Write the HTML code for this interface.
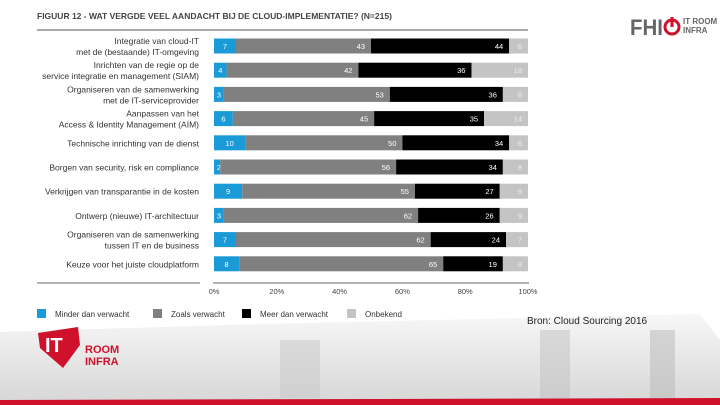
<!DOCTYPE html>
<html><head><meta charset="utf-8">
<style>
body{margin:0;width:720px;height:405px;overflow:hidden;background:#fff;font-family:"Liberation Sans",sans-serif;position:relative}
svg{position:absolute;left:0;top:0}
</style></head>
<body>
<svg width="720" height="405">
<defs><linearGradient id="city" x1="0" y1="0" x2="0" y2="1"><stop offset="0" stop-color="#f7f7f7"/><stop offset="1" stop-color="#d8d8d8"/></linearGradient></defs>
<polygon points="0,332 260,324 700,314 720,340 720,400 0,400" fill="url(#city)"/>
<rect x="280" y="340" width="40" height="58" fill="#c8c8c8" opacity="0.5"/>
<rect x="540" y="330" width="30" height="68" fill="#c0c0c0" opacity="0.5"/>
<rect x="650" y="330" width="25" height="68" fill="#b8b8b8" opacity="0.5"/>
<polygon points="0,400 720,398 720,405 0,405" fill="#d0112b"/>
<text x="37" y="19" font-size="8.5" font-weight="bold" fill="#444">FIGUUR 12 - WAT VERGDE VEEL AANDACHT BIJ DE CLOUD-IMPLEMENTATIE? (N=215)</text>
<line x1="37" y1="30" x2="528" y2="30" stroke="#555" stroke-width="1"/>
<text x="630" y="35" font-size="22" font-weight="bold" fill="#666" textLength="33" lengthAdjust="spacingAndGlyphs">FHI</text>
<circle cx="672" cy="27" r="7" fill="none" stroke="#d0112b" stroke-width="3"/>
<line x1="672" y1="17" x2="672" y2="27" stroke="#d0112b" stroke-width="3"/>
<text x="683" y="24" font-size="8" font-weight="bold" fill="#666">IT ROOM</text>
<text x="683" y="33" font-size="8" font-weight="bold" fill="#666">INFRA</text>
<g id="labels"></g>
<g id="bars"></g>
<line x1="37" y1="283" x2="200" y2="283" stroke="#999" stroke-width="1.5"/>
<line x1="213" y1="283" x2="529" y2="283" stroke="#999" stroke-width="1.5"/>
<g id="ticks"></g>
<g id="legend"></g>
<text x="527" y="324" font-size="10" fill="#222">Bron: Cloud Sourcing 2016</text>
<polygon points="38,333 78,327 80,345 63,368 40,348" fill="#d0112b"/>
<text x="45" y="352" font-size="20" font-weight="bold" fill="#fff">IT</text>
<text x="85" y="353" font-size="11" font-weight="bold" fill="#d0112b">ROOM</text>
<text x="85" y="365" font-size="11" font-weight="bold" fill="#d0112b">INFRA</text>
</svg>
<script>
const categories=[["Integratie van cloud-IT","met de (bestaande) IT-omgeving"],["Inrichten van de regie op de","service integratie en management (SIAM)"],["Organiseren van de samenwerking","met de IT-serviceprovider"],["Aanpassen van het","Access & Identity Management (AIM)"],["Technische inrichting van de dienst"],["Borgen van security, risk en compliance"],["Verkrijgen van transparantie in de kosten"],["Ontwerp (nieuwe) IT-architectuur"],["Organiseren van de samenwerking","tussen IT en de business"],["Keuze voor het juiste cloudplatform"]];
const minder=[7,4,3,6,10,2,9,3,7,8];
const zoals=[43,42,53,45,50,56,55,62,62,65];
const meer=[44,36,36,35,34,34,27,26,24,19];
const onbekend=[6,18,8,14,6,8,9,9,7,8];
const tickLabels=["0%","20%","40%","60%","80%","100%"];
const seriesNames=["Minder dan verwacht","Zoals verwacht","Meer dan verwacht","Onbekend"];
const colors=["#1a9ad6","#808080","#000","#c4c4c4"];
const ns="http://www.w3.org/2000/svg";
const x0=214,x1=528,rowTop=46,rowStep=24.2,bh=15;
const xs=v=>x0+(x1-x0)*v/100;
const yc=i=>rowTop+i*rowStep;
function mk(t,a,p){const e=document.createElementNS(ns,t);for(const k in a)e.setAttribute(k,a[k]);p.appendChild(e);return e;}
const bars=document.getElementById('bars'),labels=document.getElementById('labels');
const series=[minder,zoals,meer,onbekend];
categories.forEach((c,i)=>{
  const y=yc(i);
  c.forEach((ln,j)=>{
    const t=mk('text',{x:199,y:y+3.5+(j-(c.length-1)/2)*11,'font-size':8.5,fill:'#333','text-anchor':'end'},labels);
    
    
    t.textContent=ln;});
  let acc=0;
  series.forEach((s,k)=>{
    const v=s[i];
    const r=mk('rect',{x:xs(acc),y:y-bh/2,width:xs(acc+v)-xs(acc),height:bh,fill:colors[k]},bars);
    
    
    const tx=k===0?xs(acc)+Math.max(5,(xs(acc+v)-xs(acc))/2):xs(acc+v)-6;
    const t=mk('text',{x:tx,y:y+3,'font-size':7.5,fill:k===3?'#eee':'#fff','text-anchor':k===0?'middle':'end'},bars);
    
    
    t.textContent=v;
    acc+=v;});
});
const ticks=document.getElementById('ticks');
tickLabels.forEach((l,i)=>{
  const t=mk('text',{x:xs(i*20),y:294,'font-size':7.5,fill:'#444','text-anchor':'middle'},ticks);
  
  
  t.textContent=l;});
const leg=document.getElementById('legend');
const lx=[37,153,242,347];
seriesNames.forEach((n,i)=>{
  const r=mk('rect',{x:lx[i],y:309,width:9,height:9,fill:colors[i]},leg);
  
  
  const t=mk('text',{x:lx[i]+18,y:317,'font-size':8,fill:'#333'},leg);
  
  
  t.textContent=n;});
</script>
</body></html>
